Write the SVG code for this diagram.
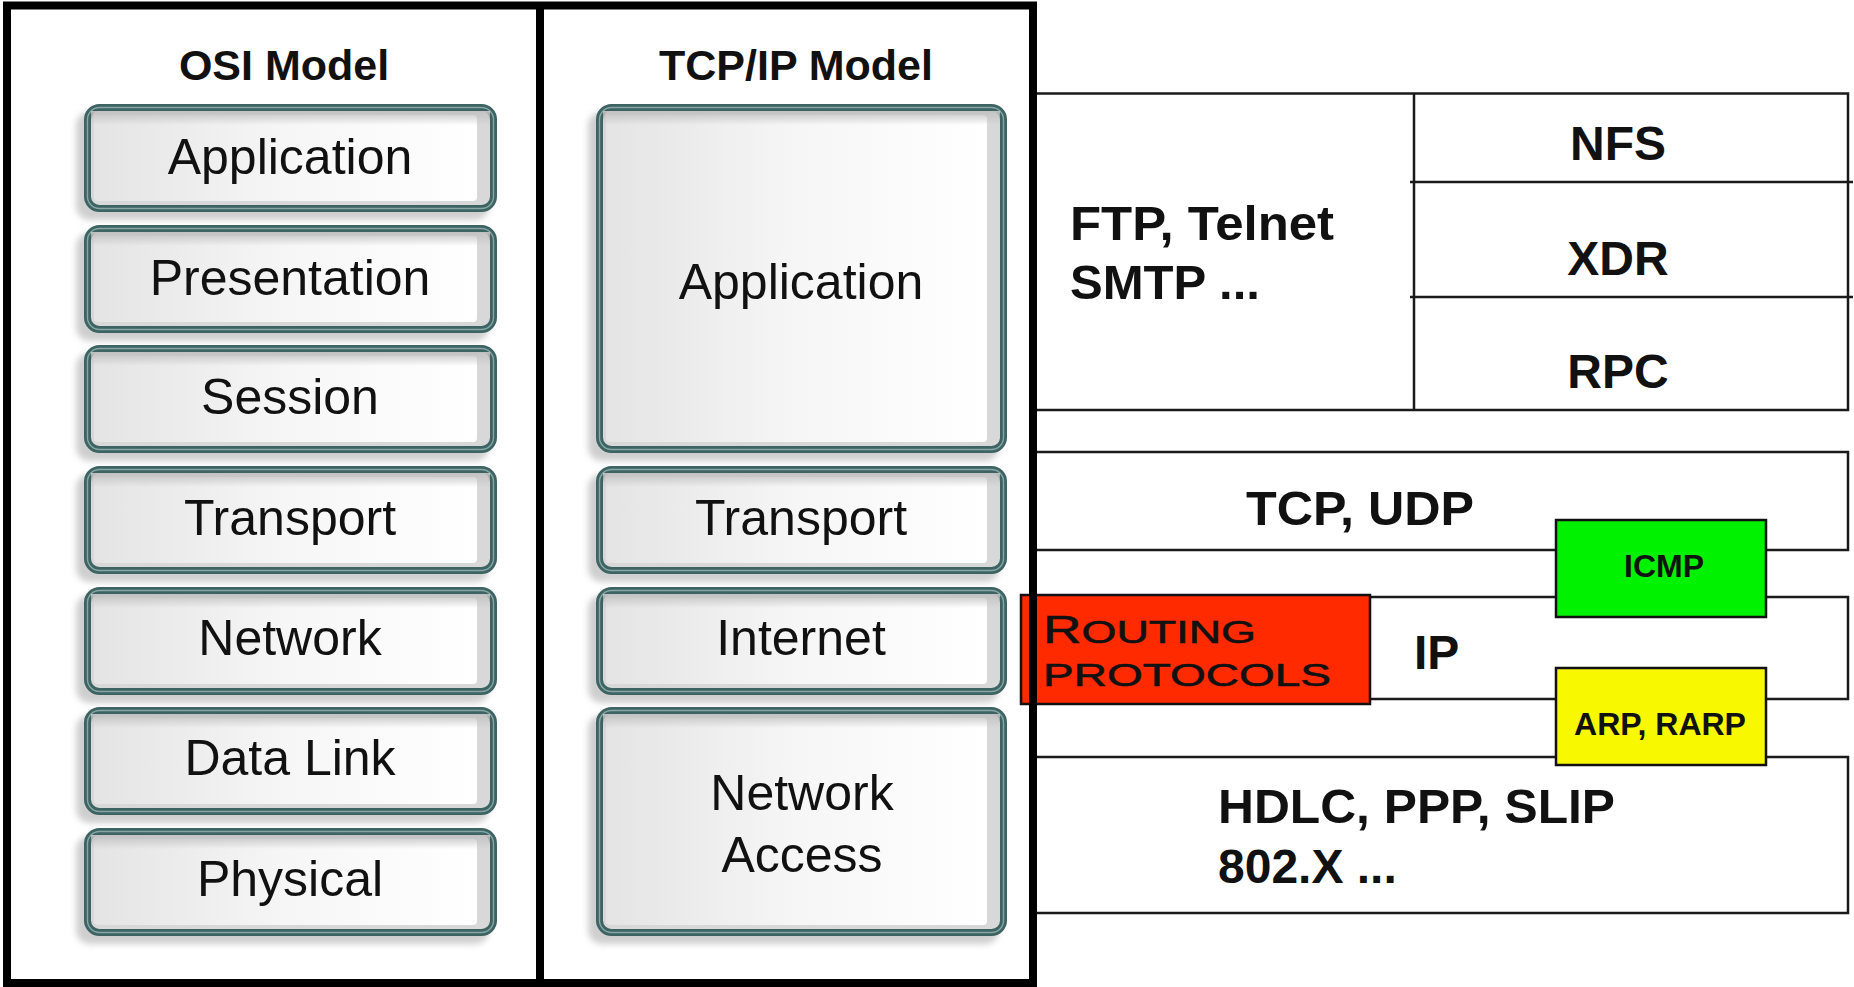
<svg xmlns="http://www.w3.org/2000/svg" width="1854" height="987" viewBox="0 0 1854 987">
<style>
  .shadow{fill:#cfcfcf;filter:url(#blur)}
  .rim{fill:#d8d8d8;stroke:#3d6362;stroke-width:7}
  .rimhl{fill:none;stroke:#86a7a6;stroke-width:1.4}
  .face{fill:url(#faceGrad)}
  .topshade{fill:url(#topGrad)}
  .lbl{font-family:"Liberation Sans",Arial,sans-serif;font-size:50px;fill:#111;text-anchor:middle}
  .hdr{font-family:"Liberation Sans",Arial,sans-serif;font-size:43px;font-weight:bold;fill:#111;text-anchor:middle}
  .proto{font-family:"Liberation Sans",Arial,sans-serif;font-size:48px;font-weight:bold;fill:#111}
  .small{font-family:"Liberation Sans",Arial,sans-serif;font-size:32px;font-weight:bold;fill:#111;text-anchor:middle}
  .blk{fill:#fff;stroke:#1a1a1a;stroke-width:2.5}
  .ln{stroke:#1a1a1a;stroke-width:2.5;fill:none}
  .frame{fill:none;stroke:#000;stroke-width:8}
  .rout{font-family:"Liberation Sans",Arial,sans-serif;fill:#111;stroke:#111;stroke-width:0.6}
</style>
<defs>
  <linearGradient id="faceGrad" x1="0" y1="0" x2="1" y2="0">
    <stop offset="0" stop-color="#e4e4e4"/>
    <stop offset="0.5" stop-color="#f6f6f6"/>
    <stop offset="1" stop-color="#ffffff"/>
  </linearGradient>
  <linearGradient id="topGrad" x1="0" y1="0" x2="0" y2="1">
    <stop offset="0" stop-color="#c2c2c2" stop-opacity="1"/>
    <stop offset="1" stop-color="#c2c2c2" stop-opacity="0"/>
  </linearGradient>
  <filter id="blur" x="-10%" y="-10%" width="120%" height="130%">
    <feGaussianBlur stdDeviation="3"/>
  </filter>
</defs>
<rect width="1854" height="987" fill="#fff"/>

<!-- right-side protocol stack -->
<g id="app-protocols">
  <rect class="blk" x="1033" y="93.5" width="815" height="316.5"/>
  <line class="ln" x1="1414" y1="93.5" x2="1414" y2="410"/>
  <line class="ln" x1="1410" y1="182" x2="1853" y2="182"/>
  <line class="ln" x1="1410" y1="297" x2="1853" y2="297"/>
  <text class="proto" x="1070" y="240" textLength="264" lengthAdjust="spacingAndGlyphs">FTP, Telnet</text>
  <text class="proto" x="1070" y="299" textLength="190" lengthAdjust="spacingAndGlyphs">SMTP ...</text>
  <text class="proto" x="1618" y="160" text-anchor="middle">NFS</text>
  <text class="proto" x="1618" y="275" text-anchor="middle">XDR</text>
  <text class="proto" x="1618" y="388" text-anchor="middle">RPC</text>
</g>
<g id="transport-protocols">
  <rect class="blk" x="1033" y="452" width="815" height="98"/>
  <text class="proto" x="1246" y="525" textLength="228" lengthAdjust="spacingAndGlyphs">TCP, UDP</text>
</g>
<g id="ip-protocol">
  <rect class="blk" x="1250" y="597" width="598" height="102"/>
  <text class="proto" x="1414" y="669">IP</text>
</g>
<g id="link-protocols">
  <rect class="blk" x="1033" y="757" width="815" height="156"/>
  <text class="proto" x="1218" y="823" textLength="397" lengthAdjust="spacingAndGlyphs">HDLC, PPP, SLIP</text>
  <text class="proto" x="1218" y="883">802.X ...</text>
</g>
<g id="icmp">
  <rect x="1556" y="520" width="210" height="97" fill="#00f200" stroke="#111" stroke-width="2.5"/>
  <text class="small" x="1664" y="577">ICMP</text>
</g>
<g id="arp">
  <rect x="1556" y="668" width="210" height="97" fill="#f8f800" stroke="#111" stroke-width="2.5"/>
  <text class="small" x="1660" y="735">ARP, RARP</text>
</g>
<g id="routing">
  <rect x="1021" y="595" width="349" height="109" fill="#ff2a00" stroke="#111" stroke-width="2.5"/>
  <text class="rout" x="1043" y="643" textLength="213" lengthAdjust="spacingAndGlyphs"><tspan font-size="38">R</tspan><tspan font-size="32">OUTING</tspan></text>
  <text class="rout" x="1043" y="686" font-size="32" textLength="288" lengthAdjust="spacingAndGlyphs">PROTOCOLS</text>
</g>

<!-- frame -->
<g id="frame">
  <rect class="frame" x="7" y="5.5" width="1026" height="977.5"/>
  <line x1="540" y1="5" x2="540" y2="983" stroke="#000" stroke-width="8"/>
</g>

<g id="osi-header"><text class="hdr" x="284" y="80">OSI Model</text></g>
<g id="tcpip-header"><text class="hdr" x="796" y="80">TCP/IP Model</text></g>

<!-- OSI layers -->
<g id="osi-application">
  <rect class="shadow" x="76" y="112" width="413" height="108" rx="14"/>
  <rect class="rim" x="87.5" y="107.5" width="406" height="101" rx="12"/>
  <rect class="rimhl" x="87.5" y="107.5" width="406" height="101" rx="12"/>
  <rect class="face" x="94" y="115" width="383" height="86" rx="4"/>
  <rect class="topshade" x="91" y="111" width="399" height="14"/>
  <text class="lbl" x="290" y="174">Application</text>
</g>
<g id="osi-presentation">
  <rect class="shadow" x="76" y="233" width="413" height="108" rx="14"/>
  <rect class="rim" x="87.5" y="228.5" width="406" height="101" rx="12"/>
  <rect class="rimhl" x="87.5" y="228.5" width="406" height="101" rx="12"/>
  <rect class="face" x="94" y="236" width="383" height="86" rx="4"/>
  <rect class="topshade" x="91" y="232" width="399" height="14"/>
  <text class="lbl" x="290" y="295">Presentation</text>
</g>
<g id="osi-session">
  <rect class="shadow" x="76" y="353" width="413" height="108" rx="14"/>
  <rect class="rim" x="87.5" y="348.5" width="406" height="101" rx="12"/>
  <rect class="rimhl" x="87.5" y="348.5" width="406" height="101" rx="12"/>
  <rect class="face" x="94" y="356" width="383" height="86" rx="4"/>
  <rect class="topshade" x="91" y="352" width="399" height="14"/>
  <text class="lbl" x="290" y="414">Session</text>
</g>
<g id="osi-transport">
  <rect class="shadow" x="76" y="474" width="413" height="108" rx="14"/>
  <rect class="rim" x="87.5" y="469.5" width="406" height="101" rx="12"/>
  <rect class="rimhl" x="87.5" y="469.5" width="406" height="101" rx="12"/>
  <rect class="face" x="94" y="477" width="383" height="86" rx="4"/>
  <rect class="topshade" x="91" y="473" width="399" height="14"/>
  <text class="lbl" x="290" y="535">Transport</text>
</g>
<g id="osi-network">
  <rect class="shadow" x="76" y="595" width="413" height="108" rx="14"/>
  <rect class="rim" x="87.5" y="590.5" width="406" height="101" rx="12"/>
  <rect class="rimhl" x="87.5" y="590.5" width="406" height="101" rx="12"/>
  <rect class="face" x="94" y="598" width="383" height="86" rx="4"/>
  <rect class="topshade" x="91" y="594" width="399" height="14"/>
  <text class="lbl" x="290" y="655">Network</text>
</g>
<g id="osi-datalink">
  <rect class="shadow" x="76" y="715" width="413" height="108" rx="14"/>
  <rect class="rim" x="87.5" y="710.5" width="406" height="101" rx="12"/>
  <rect class="rimhl" x="87.5" y="710.5" width="406" height="101" rx="12"/>
  <rect class="face" x="94" y="718" width="383" height="86" rx="4"/>
  <rect class="topshade" x="91" y="714" width="399" height="14"/>
  <text class="lbl" x="290" y="775">Data Link</text>
</g>
<g id="osi-physical">
  <rect class="shadow" x="76" y="836" width="413" height="108" rx="14"/>
  <rect class="rim" x="87.5" y="831.5" width="406" height="101" rx="12"/>
  <rect class="rimhl" x="87.5" y="831.5" width="406" height="101" rx="12"/>
  <rect class="face" x="94" y="839" width="383" height="86" rx="4"/>
  <rect class="topshade" x="91" y="835" width="399" height="14"/>
  <text class="lbl" x="290" y="896">Physical</text>
</g>

<!-- TCP/IP layers -->
<g id="tcpip-application">
  <rect class="shadow" x="588" y="112" width="411" height="349" rx="14"/>
  <rect class="rim" x="599.5" y="107.5" width="404" height="342" rx="12"/>
  <rect class="rimhl" x="599.5" y="107.5" width="404" height="342" rx="12"/>
  <rect class="face" x="606" y="115" width="381" height="327" rx="4"/>
  <rect class="topshade" x="603" y="111" width="397" height="14"/>
  <text class="lbl" x="801" y="299">Application</text>
</g>
<g id="tcpip-transport">
  <rect class="shadow" x="588" y="474" width="411" height="108" rx="14"/>
  <rect class="rim" x="599.5" y="469.5" width="404" height="101" rx="12"/>
  <rect class="rimhl" x="599.5" y="469.5" width="404" height="101" rx="12"/>
  <rect class="face" x="606" y="477" width="381" height="86" rx="4"/>
  <rect class="topshade" x="603" y="473" width="397" height="14"/>
  <text class="lbl" x="801" y="535">Transport</text>
</g>
<g id="tcpip-internet">
  <rect class="shadow" x="588" y="595" width="411" height="108" rx="14"/>
  <rect class="rim" x="599.5" y="590.5" width="404" height="101" rx="12"/>
  <rect class="rimhl" x="599.5" y="590.5" width="404" height="101" rx="12"/>
  <rect class="face" x="606" y="598" width="381" height="86" rx="4"/>
  <rect class="topshade" x="603" y="594" width="397" height="14"/>
  <text class="lbl" x="801" y="655">Internet</text>
</g>
<g id="tcpip-network-access">
  <rect class="shadow" x="588" y="715" width="411" height="229" rx="14"/>
  <rect class="rim" x="599.5" y="710.5" width="404" height="222" rx="12"/>
  <rect class="rimhl" x="599.5" y="710.5" width="404" height="222" rx="12"/>
  <rect class="face" x="606" y="718" width="381" height="207" rx="4"/>
  <rect class="topshade" x="603" y="714" width="397" height="14"/>
  <text class="lbl" x="802" y="810">Network</text>
  <text class="lbl" x="802" y="872">Access</text>
</g>

<g id="connectors"></g>
</svg>
